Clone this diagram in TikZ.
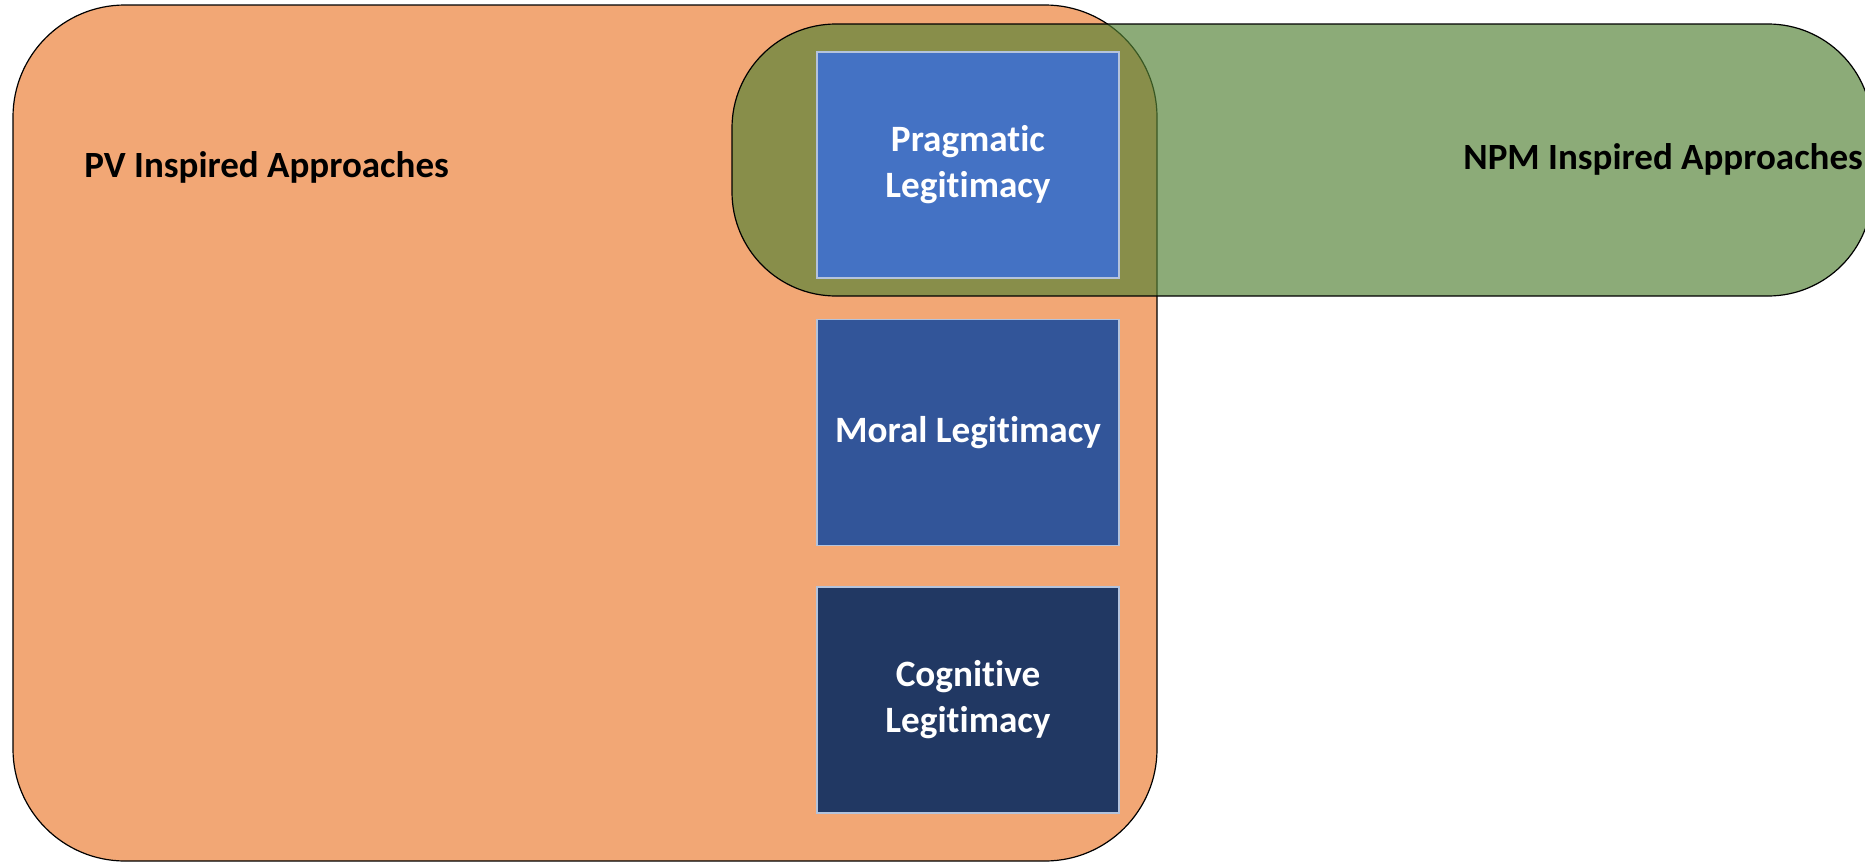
\documentclass[tikz,border=0pt]{standalone}
\usepackage{fontspec}
\setmainfont{Carlito}[Ligatures=NoCommon]
\definecolor{pvorange}{RGB}{242,167,117}
\definecolor{npmgreen}{RGB}{84,130,53}
\definecolor{legA}{RGB}{68,114,196}
\definecolor{legB}{RGB}{50,85,153}
\definecolor{legC}{RGB}{33,56,99}
\definecolor{boxedge}{RGB}{180,195,220}
\tikzset{
  region/.style={draw=black, line width=0.6pt},
  heading/.style={font=\fontsize{18.5pt}{22pt}\selectfont\bfseries, text=black, inner sep=0pt},
  legbox/.style={draw=boxedge, line width=0.6pt, minimum width=151pt, minimum height=113pt,
    inner sep=0pt, align=center, text=white,
    font=\fontsize{18.6pt}{23pt}\selectfont\bfseries},
}
\begin{document}
\begin{tikzpicture}[x=0.5pt,y=-0.5pt]
  \useasboundingbox (0,0) rectangle (1865,862);
  % public value region
  \draw[region, fill=pvorange, rounded corners=56pt] (13,5) rectangle (1157,861);
  % new public management region, translucent over the other one
  \draw[region, fill=npmgreen, fill opacity=0.67, rounded corners=52pt] (732,24) rectangle (1872,296);
  % legitimacy types
  \node[legbox, fill=legA] (prag) at (968,165) {Pragmatic\\Legitimacy};
  \node[legbox, fill=legB] (moral) at (968,432.5) {Moral Legitimacy};
  \node[legbox, fill=legC] (cogn) at (968,700) {Cognitive\\Legitimacy};
  % region labels
  \node[heading, anchor=base west] (pvlab) at (84,177) {PV Inspired Approaches};
  \node[heading, anchor=base west] (npmlab) at (1463,169) {NPM Inspired Approaches};
\end{tikzpicture}
\end{document}
